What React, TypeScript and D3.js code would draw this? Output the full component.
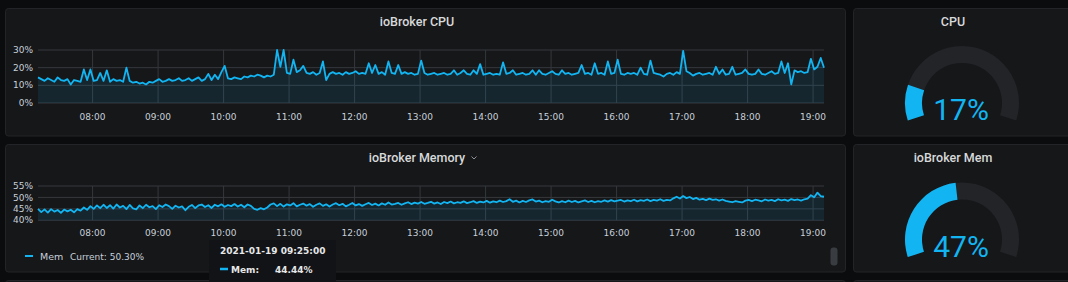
import React from 'react';
import * as d3 from 'd3';

// ---------- data ----------
const seriesStart = new Date(2021, 0, 19, 7, 10);
const seriesEnd = new Date(2021, 0, 19, 19, 10);
const stepMinutes = 3;

const cpuValues = [
  14.5, 13.5, 12.5, 14, 13, 12, 14.5, 13, 12.5, 13.5,
  10.5, 13, 12.5, 12, 19, 13, 19, 12.5, 13, 17,
  12.5, 18.5, 12, 13.5, 12.5, 13, 12, 20, 12.5, 11.5,
  12, 11, 11.5, 10.5, 12, 11.5, 12.5, 13.5, 12, 12.5,
  13.5, 12.5, 13, 14, 12.5, 13, 14, 12.5, 13.5, 14.5,
  12.5, 13.5, 16.5, 13, 16, 13.5, 17.5, 21, 14, 13.5,
  14.5, 14, 13.5, 15, 14.5, 15.5, 15, 16, 15.5, 14.5,
  15.5, 15, 16, 30, 20.5, 30, 17, 16.5, 24.5, 17.5,
  18.5, 21, 17, 16.5, 17.5, 16, 17, 23.5, 13, 16.5,
  17.5, 16.5, 17, 16, 17.5, 16.5, 17, 18, 16.5, 17,
  16.5, 22.5, 17, 21.5, 16.5, 17.5, 16, 23.5, 17, 16.5,
  21.5, 16.5, 17.5, 16.5, 17, 16, 16.5, 24, 17, 16,
  16.5, 17, 16, 16.5, 17, 16, 16.5, 18.5, 16, 17,
  18.5, 16.5, 16, 18.5, 16.5, 22, 16, 16.5, 17, 16,
  16.5, 16, 23, 16.5, 17, 18.5, 16, 16.5, 17, 16,
  16.5, 18.5, 16, 18.5, 16.5, 16, 17, 18, 16.5, 16,
  18.5, 16.5, 17, 16, 16.5, 17, 21.5, 16.5, 17, 16,
  22.5, 16.5, 17, 16, 23.5, 16.5, 17, 24.5, 16.5, 16,
  17, 16.5, 17, 16, 20, 16.5, 16, 24, 17, 16.5,
  16, 15, 16.5, 17, 16, 17.5, 16.5, 29.5, 18, 17,
  15.5, 16.5, 17, 16, 16.5, 17, 16, 20.5, 16.5, 19,
  16, 16.5, 20.5, 16, 16.5, 17, 19, 16.5, 16, 16.5,
  19, 16.5, 16, 17, 18, 16.5, 17, 23.5, 17, 22.5,
  10.5, 18.5, 17.5, 18, 17, 17.5, 25, 19, 20.5, 25.5, 20,
];

const memValues = [
  45.0, 43.6, 44.8, 43.4, 44.9, 43.8, 44.5, 43.3, 44.7, 43.9,
  44.6, 43.5, 44.9, 44.2, 45.6, 44.6, 46.2, 45.0, 46.5, 45.3,
  46.8, 45.4, 46.6, 45.1, 46.9, 45.6, 46.3, 44.9, 46.7, 45.2,
  44.8, 46.5, 45.3, 46.8, 45.7, 46.2, 44.9, 46.6, 45.8, 46.9,
  46.2, 45.0, 46.4, 45.6, 46.1, 44.4, 45.9, 46.7, 45.3, 46.5,
  46.9, 45.8, 46.6, 45.4, 46.8, 46.1, 47.0, 45.9, 46.7, 46.2,
  47.1, 46.0, 46.8, 45.7, 46.9, 46.3, 45.0, 44.6, 45.3, 44.8,
  45.6, 46.9, 47.4, 46.2, 47.2, 46.0, 47.0, 46.5, 47.5, 46.1,
  46.8, 47.3, 46.4, 47.1, 45.9, 46.8, 47.4, 46.3, 47.0, 46.0,
  46.9, 47.5, 46.6, 47.2, 46.1, 46.8, 47.6, 46.5, 47.1, 46.3,
  47.0, 47.6, 46.7, 47.3, 46.5, 47.4, 46.8, 47.8, 46.9, 47.2,
  47.6, 46.8, 47.4, 47.9, 47.1, 47.7, 47.3, 48.0, 47.2, 47.6,
  48.1, 47.3, 47.8, 47.1, 48.0, 47.5, 48.2, 47.4, 47.9, 47.6,
  48.3, 47.5, 47.9, 48.4, 47.6, 48.2, 47.8, 48.5, 47.7, 48.3,
  47.9, 48.6, 48.0, 48.4, 49.2, 48.1, 48.6, 47.8, 48.5, 48.0,
  48.7, 49.1, 48.2, 48.6, 47.9, 48.4, 48.1, 49.0, 48.3, 47.8,
  48.4, 47.9, 48.6, 48.0, 48.5, 47.8, 48.3, 48.7, 48.0, 48.5,
  47.9, 48.4, 48.1, 48.7, 48.2, 48.8, 48.3, 48.6, 48.9, 48.2,
  48.7, 48.4, 49.0, 48.3, 48.8, 48.5, 49.1, 48.4, 48.9, 48.6,
  49.2, 48.5, 48.9, 48.7, 49.6, 50.3, 49.5, 50.6, 49.7, 50.2,
  49.3, 49.8, 49.0, 49.4, 48.8, 49.5, 48.9, 49.2, 48.6, 49.1,
  48.5, 48.2, 47.9, 48.4, 48.1, 47.8, 48.6, 48.9, 48.4, 49.0,
  48.7, 48.3, 49.1, 48.6, 48.9, 48.4, 49.2, 48.7, 49.0, 48.5,
  49.3, 48.8, 49.1, 48.6, 49.2, 49.5, 51.0, 50.1, 52.1, 50.6, 50.3,
];

const cpuYTicks = [0, 10, 20, 30];
const memYTicks = [40, 45, 50, 55];
const chartTitles = ['ioBroker CPU', 'ioBroker Memory'];
const gaugeTitles = ['CPU', 'ioBroker Mem'];
const gaugeValues = [17, 47];
const legendName = 'Mem';
const legendCurrent = 'Current: 50.30%';
const tooltipTime = '2021-01-19 09:25:00';
const tooltipLabel = 'Mem:';
const tooltipValue = '44.44%';

// ---------- styles ----------
const BLUE = '#12b5f2';
const PAGE_BG = '#0b0c0e';
const PANEL_BG = '#161719';
const PANEL_BORDER = '#222427';
const GRID = '#35383c';
const TEXT = '#d8d9da';
const AXIS_TEXT = '#c7d0d9';
const SMALL_FONT = '"DejaVu Sans", Verdana, sans-serif';
const TITLE_FONT = 'Roboto, "Noto Sans", sans-serif';

const makeTimes = (n: number) =>
  d3.range(n).map((i) => new Date(seriesStart.getTime() + i * stepMinutes * 60000));
const x = d3.scaleTime().domain([seriesStart, seriesEnd]).range([38, 824]);
const hourTicks = x.ticks(d3.timeHour.every(1) as any);
const fmt = d3.timeFormat('%H:%M');

type ChartProps = {
  values: number[];
  yTicks: number[];
  y: d3.ScaleLinear<number, number>;
  xLabelY: number;
};

function TimeChart({ values, yTicks, y, xLabelY }: ChartProps) {
  const [y0, y1] = y.range();
  const times = makeTimes(values.length);
  const line = d3
    .line<number>()
    .x((_, i) => x(times[i]))
    .y((d) => y(d));
  const area = d3
    .area<number>()
    .x((_, i) => x(times[i]))
    .y0(y0)
    .y1((d) => y(d));
  return (
    <g>
      {yTicks.map((t) => (
        <line key={'h' + t} x1={38} x2={824} y1={y(t)} y2={y(t)} stroke={GRID} strokeWidth={1} />
      ))}
      {hourTicks.map((t) => (
        <line key={'v' + t.getTime()} x1={x(t)} x2={x(t)} y1={y1} y2={y0} stroke={GRID} strokeWidth={1} />
      ))}
      <path d={area(values) || ''} fill={BLUE} fillOpacity={0.1} />
      <path d={line(values) || ''} fill="none" stroke={BLUE} strokeWidth={1.8} strokeLinejoin="round" />
      {yTicks.map((t) => (
        <text
          key={'yl' + t}
          x={33}
          y={y(t)}
          dy="0.35em"
          textAnchor="end"
          fontFamily={SMALL_FONT}
          fontSize={9}
          fill={AXIS_TEXT}
        >
          {t + '%'}
        </text>
      ))}
      {hourTicks.map((t) => (
        <text
          key={'xl' + t.getTime()}
          x={x(t)}
          y={xLabelY}
          textAnchor="middle"
          fontFamily={SMALL_FONT}
          fontSize={9}
          fill={AXIS_TEXT}
        >
          {fmt(t)}
        </text>
      ))}
    </g>
  );
}

function Gauge({ cx, cy, value, title, titleY }: { cx: number; cy: number; value: number; title: string; titleY: number }) {
  const span = (216 * Math.PI) / 180;
  const start = -span / 2;
  const arc = d3.arc<any>().innerRadius(40).outerRadius(57);
  const frac = d3.scaleLinear().domain([0, 100]).range([start, start + span]);
  return (
    <g>
      <text x={953} y={titleY} textAnchor="middle" fontFamily={TITLE_FONT} fontWeight={500} fontSize={12.5} fill={TEXT}>
        {title}
      </text>
      <g transform={`translate(${cx},${cy})`}>
        <path d={arc({ startAngle: start, endAngle: start + span }) || ''} fill="#232428" />
        <path d={arc({ startAngle: start, endAngle: frac(value) }) || ''} fill={BLUE} />
        <text x={-1} y={17} textAnchor="middle" fontFamily={TITLE_FONT} fontSize={30} fill={BLUE}>
          {value + '%'}
        </text>
      </g>
    </g>
  );
}

export default function App() {
  const yCpu = d3.scaleLinear().domain([0, 30]).range([103, 50]);
  const yMem = d3.scaleLinear().domain([40, 55]).range([220.3, 186]);
  return (
    <svg
      width={1068}
      height={282}
      style={{ position: 'fixed', left: 0, top: 0, display: 'block', background: PAGE_BG }}
    >
      <rect x={0} y={0} width={1068} height={282} fill={PAGE_BG} />
      {/* panels */}
      <rect x={5.5} y={8.5} width={840} height={127.5} rx={3} fill={PANEL_BG} stroke={PANEL_BORDER} />
      <rect x={853.5} y={8.5} width={230} height={127.5} rx={3} fill={PANEL_BG} stroke={PANEL_BORDER} />
      <rect x={5.5} y={144.5} width={840} height={127.5} rx={3} fill={PANEL_BG} stroke={PANEL_BORDER} />
      <rect x={853.5} y={144.5} width={230} height={127.5} rx={3} fill={PANEL_BG} stroke={PANEL_BORDER} />
      <rect x={5.5} y={280.5} width={840} height={20} rx={3} fill={PANEL_BG} stroke={PANEL_BORDER} />
      <rect x={853.5} y={280.5} width={230} height={20} rx={3} fill={PANEL_BG} stroke={PANEL_BORDER} />

      {/* titles */}
      <text x={417} y={26} textAnchor="middle" fontFamily={TITLE_FONT} fontWeight={500} fontSize={12.5} fill={TEXT}>
        {chartTitles[0]}
      </text>
      <text x={417} y={162} textAnchor="middle" fontFamily={TITLE_FONT} fontWeight={500} fontSize={12.5} fill={TEXT}>
        {chartTitles[1]}
      </text>
      <path d="M471.5,156.5 L474,159 L476.5,156.5" fill="none" stroke="#8e9093" strokeWidth={1} />

      <TimeChart values={cpuValues} yTicks={cpuYTicks} y={yCpu} xLabelY={119.5} />
      <TimeChart values={memValues} yTicks={memYTicks} y={yMem} xLabelY={235.5} />

      {/* legend */}
      <line x1={25} x2={33} y1={256} y2={256} stroke={BLUE} strokeWidth={2} />
      <text x={40} y={259.5} fontFamily={SMALL_FONT} fontSize={9.5} fill={AXIS_TEXT}>
        {legendName}
      </text>
      <text x={70} y={259.5} fontFamily={SMALL_FONT} fontSize={9} fill={AXIS_TEXT}>
        {legendCurrent}
      </text>

      {/* scrollbar */}
      <rect x={830.5} y={247.5} width={7} height={18} rx={3} fill="#393c41" />

      {/* gauges */}
      <Gauge cx={962} cy={103} value={gaugeValues[0]} title={gaugeTitles[0]} titleY={26} />
      <Gauge cx={962} cy={239.5} value={gaugeValues[1]} title={gaugeTitles[1]} titleY={162} />

      {/* tooltip */}
      <rect x={209} y={240} width={127} height={50} fill="#121316" />
      <text x={220} y={254.3} fontFamily={SMALL_FONT} fontWeight="bold" fontSize={9} fill="#e6e7e8">
        {tooltipTime}
      </text>
      <line x1={220} x2={228} y1={269} y2={269} stroke={BLUE} strokeWidth={2.5} />
      <text x={231} y={272.5} fontFamily={SMALL_FONT} fontWeight="bold" fontSize={9} fill="#e6e7e8">
        {tooltipLabel}
      </text>
      <text x={275} y={272.5} fontFamily={SMALL_FONT} fontWeight="bold" fontSize={9} fill="#e6e7e8">
        {tooltipValue}
      </text>
    </svg>
  );
}
